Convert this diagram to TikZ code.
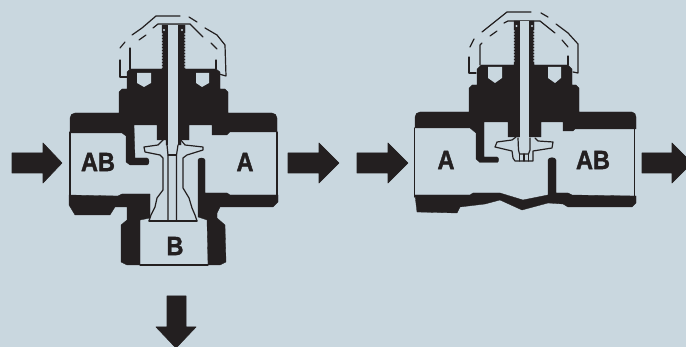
\documentclass[tikz,border=0pt]{standalone}
\usepackage{fontspec}
\setmainfont{Liberation Sans}[BoldFeatures={FakeBold=1.6}]
\definecolor{bgc}{HTML}{C9D7DF}
\definecolor{ink}{HTML}{231F20}
\tikzset{
 solid part/.style={fill=ink,draw=ink,line width=0.3pt,line join=round},
 hole/.style={fill=bgc,draw=none},
 thin line/.style={draw=ink,line width=1.3pt,line cap=round,line join=round},
 plug line/.style={draw=ink,line width=1.2pt,line cap=round,line join=round},
 cap line/.style={draw=ink,line width=1.2pt,line cap=round,line join=round},
 port/.style={font=\fontsize{23.5}{23.5}\selectfont\bfseries,text=ink,inner sep=0pt},
 flow/.style={fill=ink,draw=ink,line width=0.6pt,line join=round}
}
\newcommand{\tallport}[1]{\scalebox{1}[1.12]{#1}}
\begin{document}
\begin{tikzpicture}[x=1pt,y=-1pt]
\path[fill=bgc] (0,0) rectangle (686,347);
\useasboundingbox (0,0) rectangle (686,347);
% ===== LEFT VALVE =====
\draw[cap line] (120,48)--(125,42);
\draw[cap line] (132,35)--(142,28)--(156,16)--(180,16);
\draw[cap line] (189,17)--(197,22);
\draw[cap line] (205,28)--(217,35)--(225,45)--(226,76)--(219,74);
\draw[cap line] (120,60)--(120,77)--(127,77);
\draw[cap line] (130,69)--(130,48);
\draw[cap line] (139,40)--(146,35);
\draw[cap line] (153,28)--(158,24)--(190,24)--(203,37);
\draw[cap line] (211,43)--(217,49);
\draw[cap line] (216,60)--(216,69);
% upper body
\path[solid part] (70,118) to[out=90,in=180] (75,113) -- (119,113) -- (119,92) -- (122,89) -- (127,89)
 -- (127,72) -- (130,69) -- (162,69) -- (162,25) -- (185,25) -- (185,69) -- (216,69) -- (220,72) -- (220,89)
 -- (225,89) -- (228,92) -- (228,113) -- (272,113) to[out=0,in=90] (277,118) -- (277,132)
 -- (230,132) -- (227,135) -- (212,135) -- (212,125) -- (189,125) -- (189,140) -- (181,140) -- (181,145)
 -- (166,145) -- (166,140) -- (157,140) -- (157,125) -- (134,125)
 -- (135,158) -- (147,158) to[out=0,in=0] (147,165) -- (130,165) -- (126,162) -- (126,136) -- (122,133) -- (70,133) -- cycle;
\path[hole] (168,25) rectangle (178,147);
\path[hole] (137,73) -- (151,73) -- (151,83) -- (144,87) -- (137,83) -- cycle;
\path[hole] (196,73) -- (209,73) -- (209,83) -- (202,87) -- (196,83) -- cycle;
\fill[bgc] (164,30) circle (1.2) (182,30) circle (1.2);
\foreach \ty in {34,37,...,67}{\fill[bgc] (161.8,\ty) circle (1) (185.2,\ty) circle (1);}
% lower body
\path[solid part] (69,195) -- (69,205) -- (75,215) -- (110,215) -- (115,207) -- (127,207) -- (127,220)
 -- (121,225) -- (121,262) -- (127,265) -- (140,265) -- (140,220) -- (150,218) -- (150,194) -- (122,194) -- (118,196) -- cycle;
\path[solid part] (198,217) -- (198,160) to[out=90,in=90] (205,160) -- (205,193) -- (227,193) -- (230,195) -- (278,195)
 -- (278,202) -- (273,207) -- (220,207) -- (217,213) -- (217,218) -- (225,225) -- (226,262) -- (220,265)
 -- (208,265) -- (207,220) -- cycle;
\draw[thin line] (70,132)--(70,196);
\draw[thin line] (277,132)--(277,196);
\draw[thin line] (140,265)--(208,265);
\draw[thin line] (149,221)--(197,221);
% disc and plug
\draw[plug line] (164,139)--(158,145)--(144,147)--(145,152)--(160,155)--(163,158)--(163,190)--(157,198)--(155,207)--(151,215)--(149,221);
\draw[plug line] (180,139)--(185,145)--(203,147)--(203,150)--(187,155)--(183,158)--(183,188)--(189,198)--(192,208)--(195,215)--(197,221);
\draw[plug line] (167,145)--(168,155)--(168,220);
\draw[plug line] (178,145)--(176.5,155)--(176.5,220);
\draw[plug line] (168,155)--(176.5,155);
% ===== RIGHT VALVE =====
\draw[cap line] (470,47)--(474,39);
\draw[cap line] (482,32)--(507,12)--(531,12);
\draw[cap line] (541,13)--(548,17);
\draw[cap line] (556,24)--(568,33)--(578,44)--(578,73)--(573,72);
\draw[cap line] (469,57)--(469,73)--(476,73);
\draw[cap line] (480,65)--(480,45)--(482,43);
\draw[cap line] (490,36)--(497,31);
\draw[cap line] (504,23)--(508,21)--(540,21)--(555,33);
\draw[cap line] (562,40)--(568,47);
\draw[cap line] (568,56)--(568,65);
\path[solid part] (415,117) to[out=90,in=180] (420,112) -- (469,112) -- (469,88) -- (472,85) -- (477,85)
 -- (477,69) -- (481,65) -- (514,65) -- (514,21) -- (534,21) -- (534,65) -- (568,65) -- (572,69) -- (572,85)
 -- (576,85) -- (579,88) -- (579,112) -- (632,112) to[out=0,in=90] (636,117) -- (636,129)
 -- (575,129) -- (573,131) -- (563,131) -- (563,122) -- (541,122) -- (541,137) -- (508,137) -- (508,122) -- (484,122)
 -- (484,157) -- (497,157) to[out=0,in=0] (497,162.5) -- (480,162.5) -- (476,159) -- (476,133) -- (470,128) -- (415,128) -- cycle;
\path[hole] (519.5,21) rectangle (529,140);
\path[hole] (488,67) -- (502,67) -- (502,78) -- (495,83) -- (488,78) -- cycle;
\path[hole] (548,67) -- (561,67) -- (561,78) -- (555,83) -- (548,78) -- cycle;
\fill[bgc] (516.5,26) circle (1.2) (532,26) circle (1.2);
\foreach \ty in {31,34,...,63}{\fill[bgc] (513.8,\ty) circle (1) (534.2,\ty) circle (1);}
\path[solid part] (415,195) -- (417,212) -- (457,213) -- (460,207) -- (485,204) -- (500,200) -- (522,210) -- (548,203)
 -- (563,204) -- (568,207) -- (632,207) -- (636,203) -- (636,196) -- (572,195) -- (568,193) -- (556,193) -- (556,160)
 to[out=90,in=90] (548,160) -- (548,195) -- (523,200) -- (500,193) -- (473,193) -- (470,195) -- cycle;
\draw[thin line] (414.5,128)--(414.5,197);
\draw[thin line] (634.5,129)--(634.5,197);
\draw[plug line] (516,137)--(512,140)--(497,142)--(495,147)--(512,151)--(513,158)--(515,161)--(533,161)--(533,151)--(552,148)--(553,142)--(538,141)--(535,138);
\draw[plug line] (518,138)--(518.5,150)--(519.5,154)--(528.5,154)--(530,150)--(530,138);
\draw[plug line] (519.5,154)--(519.5,161);
\draw[plug line] (524,154)--(524,161);
\draw[plug line] (528.5,154)--(528.5,161);
% ===== LABELS =====
\node[port] (ab1) at (98,162) {\tallport{AB}};
\node[port] (a1) at (245,162) {\tallport{A}};
\node[port] (b1) at (175,246) {\tallport{B}};
\node[port] (a2) at (446,160) {\tallport{A}};
\node[port] (ab2) at (593,160) {\tallport{AB}};
% ===== ARROWS =====
\path[flow] (12,153)--(43,153)--(43,143)--(62,163)--(43,183)--(43,173)--(12,173)--cycle;
\path[flow] (288,153)--(319,153)--(319,143)--(339,163)--(319,183)--(319,173)--(288,173)--cycle;
\path[flow] (357,153)--(388,153)--(388,143)--(408,163)--(388,183)--(388,173)--(357,173)--cycle;
\path[flow] (642,153)--(672,153)--(672,143)--(686,157)--(686,169)--(672,183)--(672,173)--(642,173)--cycle;
\path[flow] (167,296)--(186,296)--(186,327)--(196,327)--(177,347)--(175,347)--(156,327)--(167,327)--cycle;
\end{tikzpicture}
\end{document}
